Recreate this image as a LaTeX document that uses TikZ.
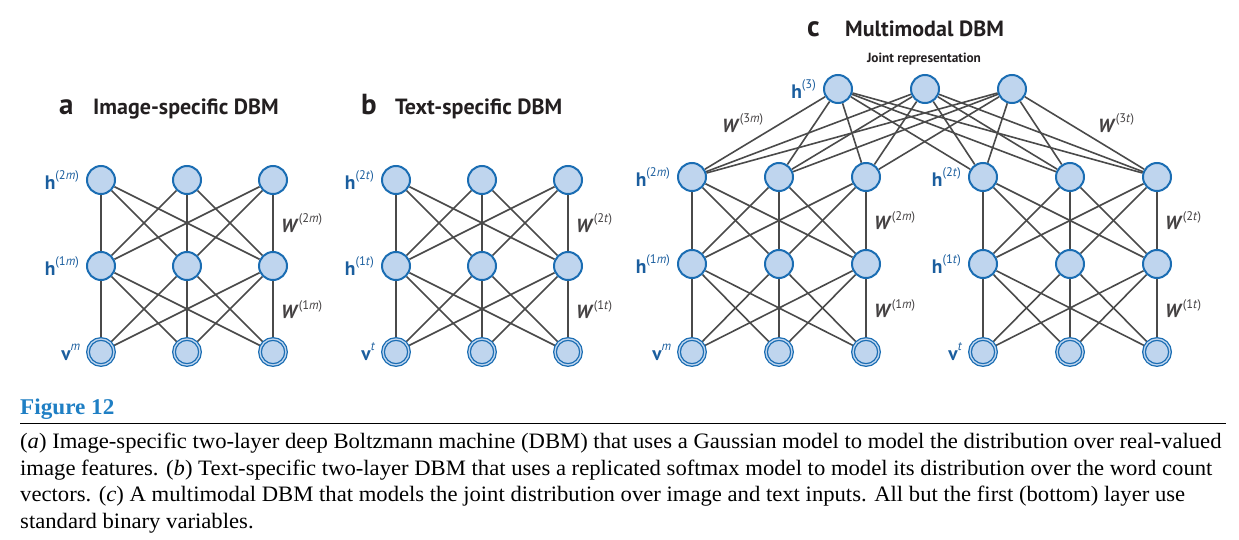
\documentclass[tikz,border=0pt]{standalone}
\usepackage{fontspec}
\setmainfont{Liberation Serif}[FakeStretch=1.03]
\setsansfont{PT Sans}
\usepackage{tikz}
\usetikzlibrary{positioning,backgrounds}

\definecolor{unitfill}{HTML}{BFD5EE}
\definecolor{unitline}{HTML}{1A6DB3}
\definecolor{labblue}{HTML}{1B5E9E}
\definecolor{edgegray}{HTML}{4A4A4A}
\definecolor{figblue}{HTML}{1F7FC4}
\definecolor{inkdark}{HTML}{231F20}

\newcommand{\sups}[1]{\raisebox{0.5em}{\fontsize{12.5}{12.5}\selectfont\mdseries #1}}

\tikzset{
	hid/.style={circle, draw=unitline, fill=unitfill, line width=2pt, minimum size=28pt, inner sep=0pt},
	vis/.style={circle, draw=unitline, fill=unitfill, line width=1.3pt, double=unitfill, double distance=1.3pt, minimum size=26pt, inner sep=0pt},
	edge/.style={draw=edgegray, line width=1.6pt},
	unitlab/.style={text=labblue, font=\sffamily\bfseries\fontsize{19.5}{19.5}\selectfont, inner sep=0pt},
	wlab/.style={text=inkdark!85, font=\sffamily\bfseries\fontsize{19}{19}\selectfont, inner sep=0pt},
	panelletter/.style={text=inkdark, font=\sffamily\bfseries\fontsize{29}{29}\selectfont, inner sep=0pt, anchor=base west},
	paneltitle/.style={text=inkdark, font=\sffamily\bfseries\fontsize{22}{22}\selectfont, inner sep=0pt, anchor=base west},
	captext/.style={text=black, font=\rmfamily\fontsize{22}{22}\selectfont, inner sep=0pt, anchor=base west}
}

\begin{document}
\begin{tikzpicture}[x=1pt, y=-1pt]
	\useasboundingbox (0,0) rectangle (1239,540);

	\foreach \g/\x/\ya/\yb/\dx in {a/101/180/266/86, b/396/180/266/86, m/692/177/264/87, t/983/177/264/87}
		\foreach \i in {1,2,3} {
			\node[hid] (\g2-\i) at ({\x+(\i-1)*\dx},\ya) {};
			\node[hid] (\g1-\i) at ({\x+(\i-1)*\dx},\yb) {};
			\node[vis] (\g0-\i) at ({\x+(\i-1)*\dx},352) {};
		}
	\foreach \i/\x in {1/838, 2/925, 3/1012}
		\node[hid] (j3-\i) at (\x,89) {};

	\begin{scope}[on background layer]
		\foreach \g in {a,b,m,t}
			\foreach \i in {1,2,3}
				\foreach \j in {1,2,3} {
					\draw[edge] (\g2-\i) -- (\g1-\j);
					\draw[edge] (\g1-\i) -- (\g0-\j);
				}
		\foreach \k in {1,2,3}
			\foreach \j in {1,2,3} {
				\draw[edge] (j3-\k) -- (m2-\j);
				\draw[edge] (j3-\k) -- (t2-\j);
			}
	\end{scope}

	\node[unitlab, left=7pt of a2-1] {h\sups{(2\textit{m})}};
	\node[unitlab, left=7pt of a1-1] {h\sups{(1\textit{m})}};
	\node[unitlab, left=7pt of a0-1] {v\sups{\textit{m}}};
	\node[unitlab, left=7pt of b2-1] {h\sups{(2\textit{t})}};
	\node[unitlab, left=7pt of b1-1] {h\sups{(1\textit{t})}};
	\node[unitlab, left=7pt of b0-1] {v\sups{\textit{t}}};
	\node[unitlab, left=7pt of m2-1] {h\sups{(2\textit{m})}};
	\node[unitlab, left=7pt of m1-1] {h\sups{(1\textit{m})}};
	\node[unitlab, left=7pt of m0-1] {v\sups{\textit{m}}};
	\node[unitlab, left=7pt of t2-1] {h\sups{(2\textit{t})}};
	\node[unitlab, left=7pt of t1-1] {h\sups{(1\textit{t})}};
	\node[unitlab, left=7pt of t0-1] {v\sups{\textit{t}}};
	\node[unitlab, left=7pt of j3-1] {h\sups{(3)}};

	\path (a2-3) -- node[wlab, right=8pt] {\textit{W}\sups{(2\textit{m})}} (a1-3);
	\path (a1-3) -- node[wlab, right=8pt] {\textit{W}\sups{(1\textit{m})}} (a0-3);
	\path (b2-3) -- node[wlab, right=8pt] {\textit{W}\sups{(2\textit{t})}} (b1-3);
	\path (b1-3) -- node[wlab, right=8pt] {\textit{W}\sups{(1\textit{t})}} (b0-3);
	\path (m2-3) -- node[wlab, right=8pt] {\textit{W}\sups{(2\textit{m})}} (m1-3);
	\path (m1-3) -- node[wlab, right=8pt] {\textit{W}\sups{(1\textit{m})}} (m0-3);
	\path (t2-3) -- node[wlab, right=8pt] {\textit{W}\sups{(2\textit{t})}} (t1-3);
	\path (t1-3) -- node[wlab, right=8pt] {\textit{W}\sups{(1\textit{t})}} (t0-3);
	\node[wlab, anchor=west] (w3m) at (722,123) {\textit{W}\sups{(3\textit{m})}};
	\node[wlab, anchor=west] (w3t) at (1098,123) {\textit{W}\sups{(3\textit{t})}};

	\node[panelletter] (la) at (59,115) {a};
	\node[paneltitle] (ta) at (93,115) {Image-specific DBM};
	\node[panelletter] (lb) at (361,115) {b};
	\node[paneltitle] (tb) at (395,115) {Text-specific DBM};
	\node[panelletter] (lc) at (807,37) {c};
	\node[paneltitle] (tc) at (845,37) {Multimodal DBM};
	\node[text=inkdark, font=\sffamily\bfseries\fontsize{13.3}{13.3}\selectfont, inner sep=0pt, anchor=base] (joint) at (924,63) {Joint representation};

	\node[captext, text=figblue, font=\rmfamily\bfseries\fontsize{22.5}{22.5}\selectfont] (fig) at (20,414) {Figure 12};
	\draw[line width=1pt] (20,423) -- (1226,423);
	\node[captext] (cap1) at (20,448) {(\textit{a}) Image-specific two-layer deep Boltzmann machine (DBM) that uses a Gaussian model to model the distribution over real-valued};
	\node[captext] (cap2) at (20,475) {image features. (\textit{b}) Text-specific two-layer DBM that uses a replicated softmax model to model its distribution over the word count};
	\node[captext] (cap3) at (20,501) {vectors. (\textit{c}) A multimodal DBM that models the joint distribution over image and text inputs. All but the first (bottom) layer use};
	\node[captext] (cap4) at (20,528) {standard binary variables.};
\end{tikzpicture}
\end{document}
